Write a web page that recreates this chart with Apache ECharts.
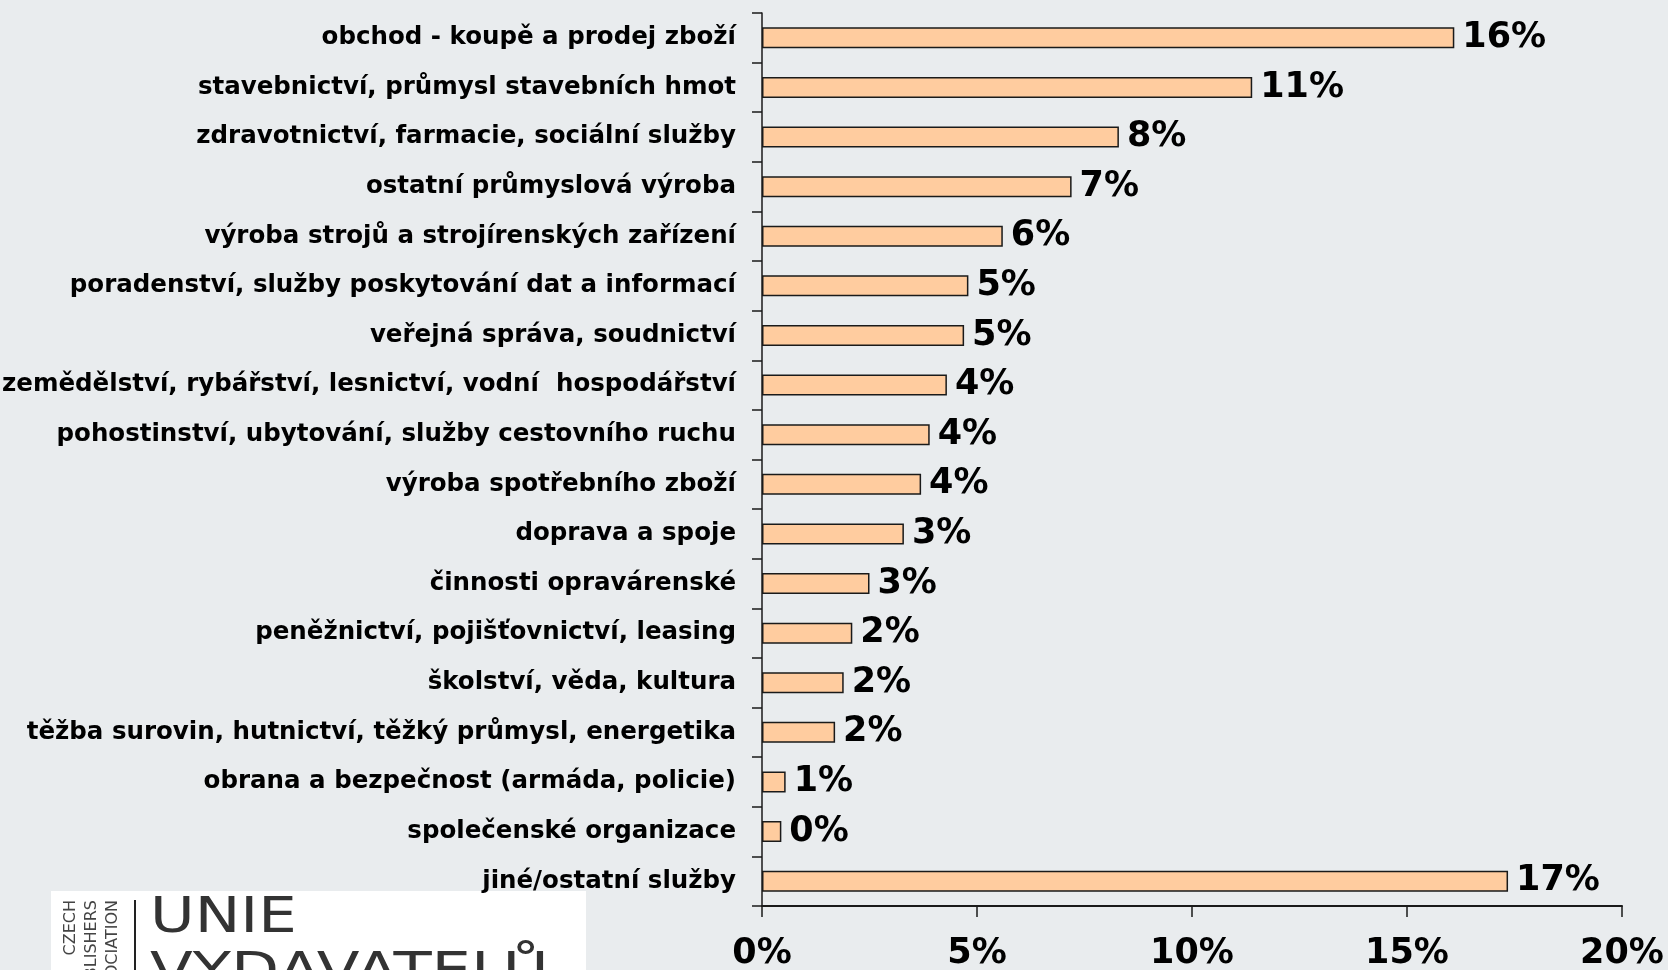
<!DOCTYPE html>
<html>
<head>
<meta charset="utf-8">
<script src="https://cdn.jsdelivr.net/npm/echarts@6/dist/echarts.min.js"></script>
<style>
    html, body { margin: 0; padding: 0; background: #e9ecee; }
    #chart { width: 1668px; height: 970px; }
</style>
</head>
<body>
<div id="chart"></div>
<script>
// obory, shora dolů
const categories = [
    'obchod - koupě a prodej zboží',
    'stavebnictví, průmysl stavebních hmot',
    'zdravotnictví, farmacie, sociální služby',
    'ostatní průmyslová výroba',
    'výroba strojů a strojírenských zařízení',
    'poradenství, služby poskytování dat a informací',
    'veřejná správa, soudnictví',
    'zemědělství, rybářství, lesnictví, vodní  hospodářství',
    'pohostinství, ubytování, služby cestovního ruchu',
    'výroba spotřebního zboží',
    'doprava a spoje',
    'činnosti opravárenské',
    'peněžnictví, pojišťovnictví, leasing',
    'školství, věda, kultura',
    'těžba surovin, hutnictví, těžký průmysl, energetika',
    'obrana a bezpečnost (armáda, policie)',
    'společenské organizace',
    'jiné/ostatní služby'
]
// podíl v %
const shares = [16.1, 11.4, 8.3, 7.2, 5.6, 4.8, 4.7, 4.3, 3.9, 3.7, 3.3, 2.5, 2.1, 1.9, 1.7, 0.55, 0.45, 17.35]
const xTicks = [0, 5, 10, 15, 20]

const chart = echarts.init(document.getElementById('chart'))

const option = {
    backgroundColor: '#e9ecee',
    animation: false,
    grid: { left: 762, right: 46, top: 13, bottom: 64, outerBoundsMode: 'none' },
    xAxis: {
        type: 'value',
        min: xTicks[0],
        max: xTicks[xTicks.length - 1],
        interval: 5,
        splitLine: { show: false },
        axisLine: { show: true, lineStyle: { color: '#1a1a1a', width: 2 } },
        axisTick: { show: true, length: 11, lineStyle: { color: '#1a1a1a', width: 1.5 } },
        axisLabel: {
            margin: 30,
            formatter: '{value}%',
            color: '#000',
            fontFamily: 'DejaVu Sans',
            fontWeight: 'bold',
            fontSize: 35
        }
    },
    yAxis: {
        type: 'category',
        data: categories,
        inverse: true,
        axisLine: { show: true, lineStyle: { color: '#1a1a1a', width: 1.5 } },
        axisTick: { show: true, length: 10, lineStyle: { color: '#1a1a1a', width: 1.5 } },
        axisLabel: {
            margin: 26,
            color: '#000',
            fontFamily: 'DejaVu Sans',
            fontWeight: 'bold',
            fontSize: 24.5
        }
    },
    series: [{
        type: 'bar',
        data: shares,
        barWidth: 21,
        itemStyle: { color: '#ffcc9f', borderColor: '#1a1a1a', borderWidth: 1.5 },
        label: {
            show: true,
            position: 'right',
            distance: 8,
            formatter: p => Math.round(p.value) + '%',
            color: '#000',
            fontFamily: 'DejaVu Sans',
            fontWeight: 'bold',
            fontSize: 35
        }
    }],
    graphic: [
        { type: 'rect', shape: { x: 51, y: 891, width: 535, height: 90 }, style: { fill: '#fff' } },
        { type: 'text', x: 71, y: 900, rotation: Math.PI / 2,
          style: { text: 'CZECH', fill: '#444', font: '16px "DejaVu Sans"', textAlign: 'right', textVerticalAlign: 'middle' } },
        { type: 'text', x: 92, y: 900, rotation: Math.PI / 2,
          style: { text: 'PUBLISHERS', fill: '#444', font: '16px "DejaVu Sans"', textAlign: 'right', textVerticalAlign: 'middle' } },
        { type: 'text', x: 113, y: 900, rotation: Math.PI / 2,
          style: { text: 'ASSOCIATION', fill: '#444', font: '16px "DejaVu Sans"', textAlign: 'right', textVerticalAlign: 'middle' } },
        { type: 'line', shape: { x1: 135, y1: 900, x2: 135, y2: 975 }, style: { stroke: '#222', lineWidth: 2 } },
        { type: 'text', x: 150, y: 894, scaleX: 1.22,
          style: { text: 'UNIE', fill: '#333', font: '50px "DejaVu Sans"', textVerticalAlign: 'top' } },
        { type: 'text', x: 150, y: 949, scaleX: 1.25,
          style: { text: 'VYDAVATELŮ', fill: '#333', font: '50px "DejaVu Sans"', textVerticalAlign: 'top' } }
    ]
}

chart.setOption(option)
</script>
</body>
</html>
